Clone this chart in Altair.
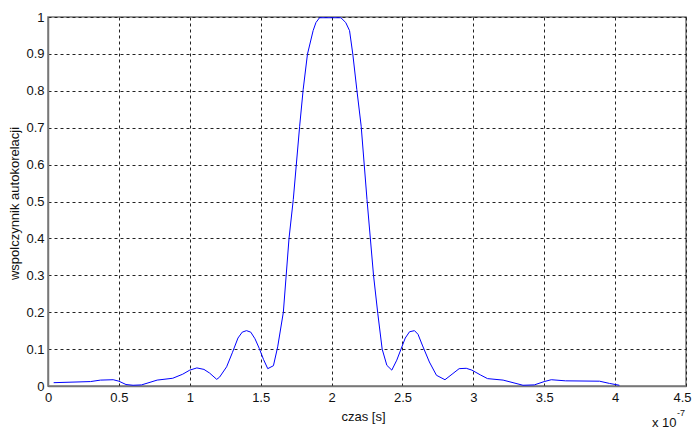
import altair as alt
import pandas as pd

# time in units of 1e-7 s
czas = [0.04, 0.30, 0.37, 0.46, 0.50, 0.55, 0.60, 0.66, 0.77, 0.88, 0.95, 1.00, 1.05,
        1.10, 1.14, 1.19, 1.21, 1.26, 1.30, 1.34, 1.37, 1.40, 1.43, 1.46, 1.49, 1.52,
        1.55, 1.59, 1.62, 1.66, 1.70, 1.73, 1.775, 1.80, 1.83, 1.87, 1.89, 1.915,
        2.066, 2.10, 2.127, 2.15, 2.178, 2.209, 2.25, 2.296, 2.326, 2.357, 2.39, 2.425,
        2.46, 2.49, 2.52, 2.55, 2.585, 2.61, 2.64, 2.69, 2.74, 2.80, 2.85, 2.90, 2.95,
        2.99, 3.05, 3.10, 3.21, 3.35, 3.43, 3.50, 3.55, 3.65, 3.89, 3.96, 4.03]
autokorelacja = [0.009, 0.012, 0.016, 0.017, 0.013, 0.004, 0.002, 0.003, 0.016, 0.021,
                 0.032, 0.043, 0.049, 0.045, 0.035, 0.018, 0.024, 0.052, 0.090, 0.130,
                 0.146, 0.150, 0.146, 0.128, 0.102, 0.072, 0.047, 0.055, 0.106, 0.200,
                 0.400, 0.505, 0.704, 0.804, 0.899, 0.963, 0.985, 0.998, 0.998, 0.985,
                 0.963, 0.899, 0.804, 0.704, 0.505, 0.300, 0.197, 0.100, 0.056, 0.043,
                 0.070, 0.100, 0.130, 0.147, 0.150, 0.140, 0.111, 0.065, 0.029, 0.017,
                 0.032, 0.047, 0.048, 0.043, 0.030, 0.020, 0.016, 0.002, 0.003, 0.012,
                 0.017, 0.014, 0.013, 0.007, 0.002]

x_ticks = [0, 0.5, 1, 1.5, 2, 2.5, 3, 3.5, 4, 4.5]
y_ticks = [0, 0.1, 0.2, 0.3, 0.4, 0.5, 0.6, 0.7, 0.8, 0.9, 1]

df = pd.DataFrame({"czas": czas, "r": autokorelacja})

FONT = "Liberation Sans"

line = alt.Chart(df).mark_line(color="#0000ff", strokeWidth=1, clip=True).encode(
    x=alt.X("czas:Q",
            scale=alt.Scale(domain=[0, 4.5], nice=False, zero=False),
            axis=alt.Axis(values=x_ticks, format="~g", title="czas [s]",
                          grid=True, gridColor="#222", gridDash=[3, 3], gridWidth=1,
                          ticks=False, labelPadding=5, labelFontSize=13,
                          labelFont=FONT, labelColor="#111",
                          labelOffset={"condition": {"test": "datum.value >= 4.5", "value": -4},
                                       "value": 0},
                          titleFont=FONT, titleFontSize=13, titleFontWeight="normal",
                          titleColor="#111", titleX=315, titleY=34,
                          titleBaseline="alphabetic",
                          domainColor="#777", domainWidth=1.5,
                          labelFlush=False)),
    y=alt.Y("r:Q",
            scale=alt.Scale(domain=[0, 1], nice=False),
            axis=alt.Axis(values=y_ticks, format="~g",
                          title="wspolczynnik autokorelacji",
                          grid=True, gridColor="#222", gridDash=[3, 3], gridWidth=1,
                          ticks=False, labelPadding=4, labelFontSize=13,
                          labelFont=FONT, labelColor="#111",
                          titleFont=FONT, titleFontSize=13, titleFontWeight="normal",
                          titleColor="#111", titleX=-27, titleY=186,
                          domainColor="#777", domainWidth=1.5,
                          labelFlush=False)),
)

exp_base = alt.Chart(pd.DataFrame({"t": ["x 10"]})).mark_text(
    font=FONT, fontSize=13, align="left", baseline="alphabetic", color="#111"
).encode(text="t:N", x=alt.value(604), y=alt.value(410))

exp_sup = alt.Chart(pd.DataFrame({"t": ["-7"]})).mark_text(
    font=FONT, fontSize=9, align="left", baseline="alphabetic", color="#111"
).encode(text="t:N", x=alt.value(629), y=alt.value(399))

chart = alt.layer(line, exp_base, exp_sup).properties(
    width=638, height=369,
    padding={"left": 48, "top": 17, "right": 7, "bottom": 44},
    autosize=alt.AutoSizeParams(type="none"),
    background="white",
).configure_view(stroke="#777", strokeWidth=1.5)

chart.save("out.html", embed_options={"renderer": "svg", "actions": False})
